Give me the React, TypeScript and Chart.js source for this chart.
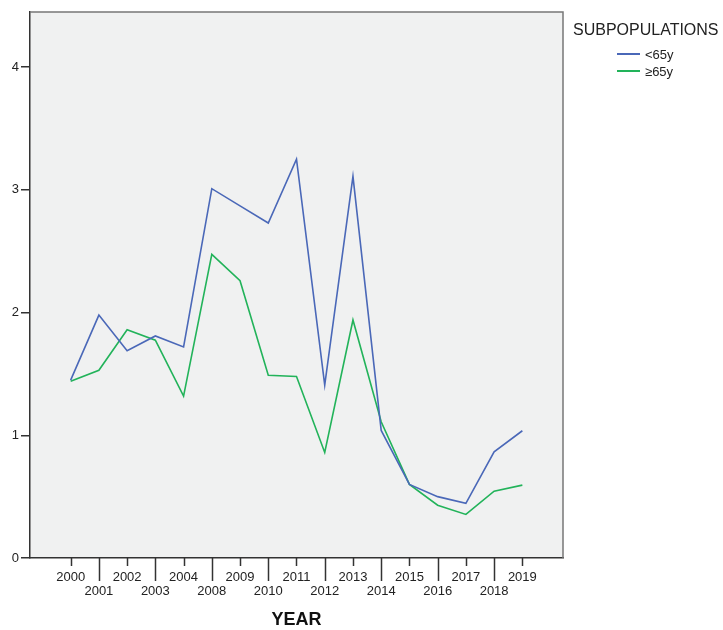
import React, { useEffect, useRef } from "react";
import { Chart, registerables } from "chart.js";

Chart.register(...registerables);

const categories = ["2000","2001","2002","2003","2004","2008","2009","2010","2011","2012","2013","2014","2015","2016","2017","2018","2019"];
const under65 = [1.45, 1.98, 1.69, 1.81, 1.72, 3.01, 2.87, 2.73, 3.25, 1.41, 3.11, 1.04, 0.60, 0.50, 0.445, 0.865, 1.037];
const over65 = [1.44, 1.53, 1.86, 1.775, 1.32, 2.475, 2.26, 1.49, 1.48, 0.86, 1.94, 1.11, 0.60, 0.43, 0.355, 0.545, 0.594];
const yTicks = [0, 1, 2, 3, 4];
const seriesNames = ["<65y", "\u226565y"];
const seriesColors = ["#4a68b8", "#22b35a"];
const legendTitle = "SUBPOPULATIONS";
const xTitle = "YEAR";

const FONT = "Arial, 'Liberation Sans', sans-serif";

const customPlugin = {
  id: "spssStyle",
  beforeDraw(chart: any) {
    const { ctx, chartArea } = chart;
    ctx.save();
    ctx.fillStyle = "#f0f1f1";
    ctx.fillRect(chartArea.left, chartArea.top, chartArea.right - chartArea.left, chartArea.bottom - chartArea.top);
    ctx.restore();
  },
  afterDraw(chart: any) {
    const { ctx, chartArea } = chart;
    const xs = chart.scales.x;
    ctx.save();
    // frame top/right
    ctx.strokeStyle = "#777777";
    ctx.lineWidth = 1.5;
    ctx.beginPath();
    ctx.moveTo(chartArea.left, chartArea.top);
    ctx.lineTo(chartArea.right, chartArea.top);
    ctx.lineTo(chartArea.right, chartArea.bottom);
    ctx.stroke();
    // x tick marks (staggered)
    ctx.strokeStyle = "#333333";
    ctx.lineWidth = 1.5;
    categories.forEach((_, i) => {
      const x = Math.round(xs.getPixelForValue(i)) + 0.5;
      ctx.beginPath();
      ctx.moveTo(x, chartArea.bottom);
      ctx.lineTo(x, chartArea.bottom + (i % 2 === 0 ? 8 : 23));
      ctx.stroke();
    });
    // x title
    ctx.fillStyle = "#111111";
    ctx.font = `bold 18px ${FONT}`;
    ctx.textAlign = "center";
    ctx.textBaseline = "middle";
    ctx.fillText(xTitle, (chartArea.left + chartArea.right) / 2, 620);
    // legend
    ctx.textAlign = "left";
    ctx.font = `16px ${FONT}`;
    ctx.fillStyle = "#222222";
    ctx.fillText(legendTitle, 573, 31);
    ctx.font = `13px ${FONT}`;
    seriesNames.forEach((name, i) => {
      const y = 54 + i * 17;
      ctx.strokeStyle = seriesColors[i];
      ctx.lineWidth = 2;
      ctx.beginPath();
      ctx.moveTo(617, y);
      ctx.lineTo(640, y);
      ctx.stroke();
      ctx.fillStyle = "#222222";
      ctx.fillText(name, 645, y + 1);
    });
    ctx.restore();
  },
};

export default function App() {
  const ref = useRef<HTMLCanvasElement>(null);
  useEffect(() => {
    if (!ref.current) return;
    const chart = new Chart(ref.current, {
      type: "line",
      data: {
        datasets: [
          {
            label: seriesNames[0],
            data: under65.map((v, i) => ({ x: i, y: v })),
            borderColor: seriesColors[0],
            borderWidth: 1.6,
            pointRadius: 0,
            tension: 0,
            fill: false,
          },
          {
            label: seriesNames[1],
            data: over65.map((v, i) => ({ x: i, y: v })),
            borderColor: seriesColors[1],
            borderWidth: 1.6,
            pointRadius: 0,
            tension: 0,
            fill: false,
          },
        ],
      },
      options: {
        animation: false,
        responsive: false,
        maintainAspectRatio: false,
        layout: { padding: { left: 0, top: 12, right: 160, bottom: 0 } },
        plugins: { legend: { display: false }, tooltip: { enabled: false } },
        scales: {
          x: {
            type: "linear",
            min: -1.44,
            max: 17.44,
            afterBuildTicks: (scale: any) => {
              scale.ticks = categories.map((_, i) => ({ value: i }));
            },
            afterFit: (scale: any) => {
              scale.height = 72;
            },
            grid: { display: true, drawOnChartArea: false, drawTicks: false },
            border: { display: true, color: "#333333", width: 1.5 },
            ticks: {
              autoSkip: false,
              maxRotation: 0,
              minRotation: 0,
              padding: 12,
              color: "#222222",
              font: { family: FONT, size: 13, lineHeight: 1.1 },
              callback: (v: any) => {
                const i = Math.round(Number(v));
                const lab = categories[i];
                if (lab === undefined) return "";
                return i % 2 === 0 ? [lab] : ["", lab];
              },
            },
          },
          y: {
            type: "linear",
            min: 0,
            max: 4.45,
            afterBuildTicks: (scale: any) => {
              scale.ticks = yTicks.map((v) => ({ value: v }));
            },
            afterFit: (scale: any) => {
              scale.width = 30;
            },
            grid: { display: true, drawOnChartArea: false, drawTicks: true, tickLength: 9, color: "#333333", lineWidth: 1.5 },
            border: { display: true, color: "#333333", width: 1.5 },
            ticks: {
              padding: 2,
              color: "#222222",
              font: { family: FONT, size: 13 },
            },
          },
        },
      },
      plugins: [customPlugin],
    });
    return () => chart.destroy();
  }, []);
  return (
    <div style={{ position: "fixed", left: 0, top: 0, width: 723, height: 630, background: "#ffffff" }}>
      <canvas ref={ref} width={723} height={630} style={{ width: 723, height: 630, display: "block" }} />
    </div>
  );
}
